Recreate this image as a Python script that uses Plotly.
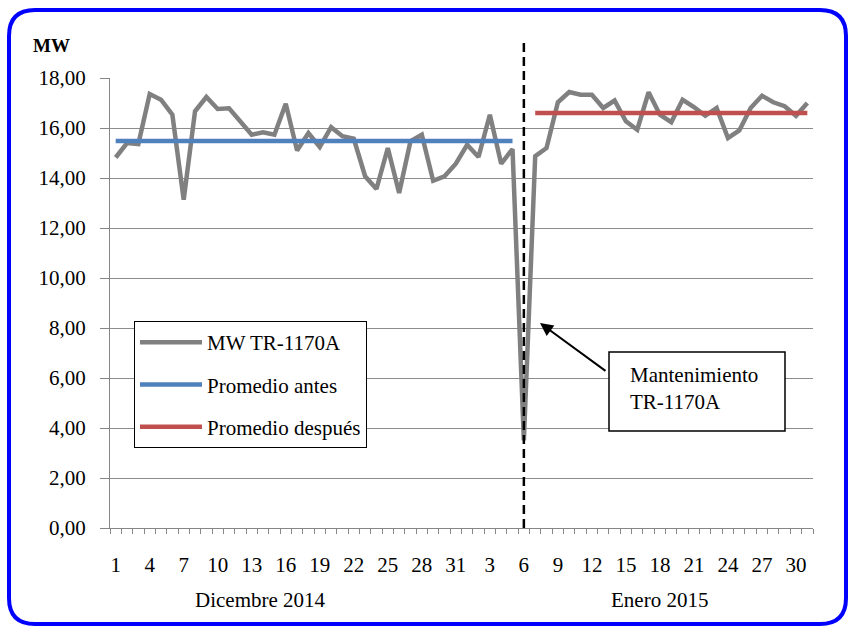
import plotly.graph_objects as go

# Daily categories: December 2014 followed by January 2015
dec_days = list(range(1, 32))
jan_days = list(range(1, 32))
day_labels = [str(d) for d in dec_days + jan_days]

# Daily MW of transformer TR-1170A
mw_tr1170a = [
    14.82, 15.40, 15.36, 17.36, 17.13, 16.53, 13.13, 16.67, 17.24, 16.76,
    16.79, 16.27, 15.73, 15.83, 15.73, 16.97, 15.10, 15.80, 15.24, 16.03,
    15.67, 15.57, 14.07, 13.56, 15.20, 13.40, 15.47, 15.73, 13.89, 14.07,
    14.57,
    15.33, 14.84, 16.53, 14.57, 15.16, 3.50, 14.87, 15.20, 17.03, 17.44,
    17.33, 17.33, 16.80, 17.10, 16.27, 15.93, 17.43, 16.53, 16.23, 17.13,
    16.84, 16.49, 16.80, 15.60, 15.90, 16.80, 17.29, 17.03, 16.87, 16.49,
    17.00,
]

# Averages before / after the maintenance day
avg_before = 15.48
avg_after = 16.60
before_days = list(range(0, 36))
after_days = list(range(37, 62))
maintenance_day = 36

month_labels = ["Dicembre 2014", "Enero 2015"]
series_names = ["MW TR-1170A", "Promedio antes", "Promedio después"]
note_text = "Mantenimiento<br>TR-1170A"

x_idx = list(range(len(day_labels)))
tick_pos = x_idx[::3]
tick_txt = day_labels[::3]

FONT = "Times New Roman, Liberation Serif, serif"
FS = 21

# plot-area geometry in pixels (used to place decorations in paper space)
W, H = 854, 628
L, R, T, B = 110, 41, 78, 100
PW, PH = W - L - R, H - T - B


def px(x):
    return (x - L) / PW


def py(y):
    return (H - B - y) / PH


fig = go.Figure()
fig.add_trace(go.Scatter(
    x=x_idx, y=mw_tr1170a, mode="lines", name=series_names[0],
    line=dict(color="#808080", width=4.5), legendgroup="a",
))
fig.add_trace(go.Scatter(
    x=before_days, y=[avg_before] * len(before_days), mode="lines",
    name=series_names[1], line=dict(color="#4F81BD", width=4.5), legendgroup="b",
))
fig.add_trace(go.Scatter(
    x=after_days, y=[avg_after] * len(after_days), mode="lines",
    name=series_names[2], line=dict(color="#C0504D", width=4.5), legendgroup="c",
))

# rounded blue frame around the whole chart
x0, x1, y0, y1, r = 9, 846, 10, 624, 26
frame = (
    f"M {px(x0)} {py(y0 + r)} "
    f"Q {px(x0)} {py(y0)} {px(x0 + r)} {py(y0)} "
    f"L {px(x1 - r)} {py(y0)} "
    f"Q {px(x1)} {py(y0)} {px(x1)} {py(y0 + r)} "
    f"L {px(x1)} {py(y1 - r)} "
    f"Q {px(x1)} {py(y1)} {px(x1 - r)} {py(y1)} "
    f"L {px(x0 + r)} {py(y1)} "
    f"Q {px(x0)} {py(y1)} {px(x0)} {py(y1 - r)} Z"
)

shapes = [
    dict(type="path", xref="paper", yref="paper", path=frame,
         line=dict(color="#0000FF", width=4)),
    dict(type="line", xref="x", yref="paper", x0=maintenance_day, x1=maintenance_day,
         y0=0, y1=py(40), line=dict(color="black", width=2.5, dash="9px,5px")),
    dict(type="rect", xref="paper", yref="paper",
         x0=px(609), x1=px(785), y0=py(431), y1=py(352),
         line=dict(color="black", width=1.5), fillcolor="white"),
]

annotations = [
    dict(text="<b>MW</b>", xref="paper", yref="paper", x=px(51), y=py(45),
         xanchor="center", yanchor="middle", showarrow=False,
         font=dict(family=FONT, size=19, color="black")),
    dict(text=month_labels[0], xref="paper", yref="paper", x=px(260), y=py(600),
         xanchor="center", yanchor="middle", showarrow=False,
         font=dict(family=FONT, size=FS, color="black")),
    dict(text=month_labels[1], xref="paper", yref="paper", x=px(659), y=py(600),
         xanchor="center", yanchor="middle", showarrow=False,
         font=dict(family=FONT, size=FS, color="black")),
    dict(text=note_text, xref="paper", yref="paper", x=px(628), y=py(388),
         xanchor="left", yanchor="middle", align="left", showarrow=False,
         font=dict(family=FONT, size=FS, color="black")),
    dict(text="", xref="paper", yref="paper", x=px(540), y=py(323),
         ax=67, ay=49, showarrow=True, arrowhead=2, arrowsize=1.3,
         arrowwidth=2, arrowcolor="black"),
]

fig.update_layout(
    width=W, height=H,
    margin=dict(l=L, r=R, t=T, b=B),
    paper_bgcolor="white", plot_bgcolor="white",
    separators=",.",
    font=dict(family=FONT, size=FS, color="black"),
    showlegend=True,
    legend=dict(
        x=px(134), y=py(321), xanchor="left", yanchor="top",
        bgcolor="white", bordercolor="black", borderwidth=1,
        font=dict(family=FONT, size=FS, color="black"),
        tracegroupgap=12, itemwidth=62,
    ),
    shapes=shapes,
    annotations=annotations,
)

fig.update_xaxes(
    range=[-0.5, len(day_labels) - 0.5],
    tickvals=tick_pos, ticktext=tick_txt, ticks="",
    showgrid=False, zeroline=False,
    showline=True, linecolor="#868686", linewidth=1.3,
    ticklabelstandoff=18,
    minor=dict(tickvals=[i - 0.5 for i in range(len(day_labels) + 1)],
               ticks="outside", ticklen=5, tickcolor="#868686", showgrid=False),
    tickfont=dict(family=FONT, size=FS, color="black"),
)
fig.update_yaxes(
    range=[0, 18], dtick=2, tickformat=".2f",
    showgrid=True, gridcolor="#8c8c8c", gridwidth=1,
    zeroline=False, showline=True, linecolor="#868686", linewidth=1.3,
    ticks="outside", ticklen=9, tickcolor="#868686",
    ticklabelstandoff=10,
    tickfont=dict(family=FONT, size=FS, color="black"),
)

fig.write_html("out.html")
